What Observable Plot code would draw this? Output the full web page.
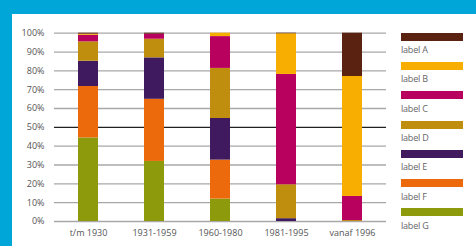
<!DOCTYPE html>
<html>
<head>
<meta charset="utf-8">
<script src="https://cdn.jsdelivr.net/npm/d3@7"></script>
<script src="https://cdn.jsdelivr.net/npm/@observablehq/plot@0.6"></script>
<style>
  html, body { margin: 0; padding: 0; }
  body { width: 476px; height: 246px; background: #00a6d8; position: relative; overflow: hidden; font-family: "Open Sans", sans-serif; }
  #panel { position: absolute; left: 12px; top: 14px; width: 464px; height: 232px; background: #fff; }
  #chart { position: absolute; left: 0; top: 0; }
  #legend { position: absolute; left: 389px; top: 18.7px; width: 62px; }
  .item { height: 29.3px; }
  .sw { width: 61.6px; height: 8px; }
  .lb { font-size: 9px; line-height: 11px; color: #666; margin-top: 3.5px; letter-spacing: -0.2px; }
</style>
</head>
<body>
<div id="panel"><div id="chart"></div><div id="legend"></div></div>
<script>
const categories = ["t/m 1930", "1931-1959", "1960-1980", "1981-1995", "vanaf 1996"];
const seriesNames = ["label G", "label F", "label E", "label D", "label C", "label B", "label A"];
const seriesColors = ["#8c9a0c", "#ec6a0c", "#3f1a5e", "#bf8e0e", "#b8005e", "#f8ae00", "#5a2210"];
const valuesG = [44.4, 31.9, 11.9, 0, 0];
const valuesF = [27.3, 33.0, 20.7, 0, 0];
const valuesE = [13.4, 22.0, 22.1, 1.5, 0];
const valuesD = [10.3, 9.9, 26.6, 18.0, 0.5];
const valuesC = [3.5, 2.7, 16.9, 58.6, 12.8];
const valuesB = [0.6, 0, 1.8, 21.6, 63.7];
const valuesA = [0.5, 0.5, 0, 0.3, 23.0];
const yTicks = [0, 10, 20, 30, 40, 50, 60, 70, 80, 90, 100];
const yTickLabels = yTicks.map(t => t + "%");

const seriesValues = [valuesG, valuesF, valuesE, valuesD, valuesC, valuesB, valuesA];
const data = [];
categories.forEach((c, i) => {
  seriesNames.forEach((s, j) => {
    data.push({category: c, series: s, value: seriesValues[j][i]});
  });
});

const chart = Plot.plot({
  width: 390,
  height: 232,
  marginLeft: 42,
  marginRight: 16,
  marginTop: 18.7,
  marginBottom: 25,
  style: {fontFamily: "Open Sans, sans-serif", fontSize: "9px", color: "#555", background: "transparent"},
  x: {domain: categories, paddingInner: 0.7, paddingOuter: 0.35, label: null, tickSize: 0, tickPadding: 8},
  y: {domain: [0, 100], label: null, ticks: yTicks, tickSize: 0, tickPadding: 10, tickFormat: (d, i) => yTickLabels[yTicks.indexOf(d)]},
  color: {domain: seriesNames, range: seriesColors},
  marks: [
    Plot.ruleY(yTicks, {stroke: d => d === 50 ? "#222" : "#a8a8a8", strokeWidth: 1.3}),
    Plot.barY(data, Plot.stackY({x: "category", y: "value", fill: "series"}))
  ]
});
document.getElementById("chart").appendChild(chart);

const legend = document.getElementById("legend");
const legendOrder = [...seriesNames].reverse();
const legendColors = [...seriesColors].reverse();
legendOrder.forEach((name, i) => {
  const item = document.createElement("div");
  item.className = "item";
  const sw = document.createElement("div");
  sw.className = "sw";
  sw.style.background = legendColors[i];
  const lb = document.createElement("div");
  lb.className = "lb";
  lb.textContent = name;
  item.appendChild(sw);
  item.appendChild(lb);
  legend.appendChild(item);
});
</script>
</body>
</html>
